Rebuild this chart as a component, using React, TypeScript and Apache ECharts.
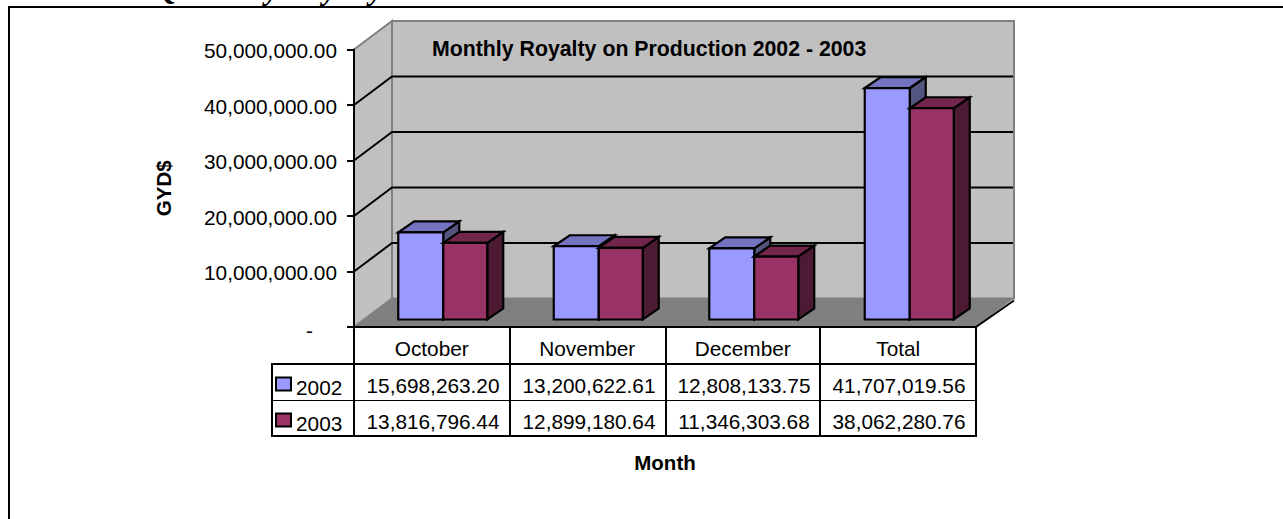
import React, { useEffect, useRef } from "react";
import * as echarts from "echarts";

const categories = ["October", "November", "December", "Total"];
const seriesNames = ["2002", "2003"];
const values2002 = [15698263.2, 13200622.61, 12808133.75, 41707019.56];
const values2003 = [13816796.44, 12899180.64, 11346303.68, 38062280.76];
const axisTicks = [0, 10000000, 20000000, 30000000, 40000000, 50000000];

const FONT = "Liberation Sans, Arial, sans-serif";
const GRID = { left: 354, top: 49.5, width: 622, height: 277.5 };
const WALL_DX = 38;
const WALL_DY = -28.5;
const BAR_DX = 16;
const BAR_DY = -11;
const BAR_W = 45;
const BAR_SHIFT_X = 11.5;
const BAR_SHIFT_Y = -7.5;
const COLORS = [
  { front: "#9999FF", top: "#7373BF", side: "#545480" },
  { front: "#993366", top: "#73264C", side: "#4D1A33" },
];
const money = (v: number) =>
  v.toLocaleString("en-US", { minimumFractionDigits: 2, maximumFractionDigits: 2 });

const wallItem = (params: any, api: any) => {
  const v = api.value(0);
  const p = api.coord([0, v]);
  const y = p[1];
  const x0 = GRID.left;
  const x1 = GRID.left + GRID.width;
  const children: any[] = [];
  const grey = "#808080";
  if (v === 0) {
    const yTop = api.coord([0, axisTicks[axisTicks.length - 1]])[1];
    const bx0 = x0 + WALL_DX;
    const bx1 = x1 + WALL_DX;
    children.push({
      type: "polygon",
      shape: { points: [[bx0, yTop + WALL_DY], [bx1, yTop + WALL_DY], [bx1, y + WALL_DY], [bx0, y + WALL_DY]] },
      style: { fill: "#C0C0C0", stroke: grey, lineWidth: 2 },
    });
    children.push({
      type: "polygon",
      shape: { points: [[x0, yTop], [bx0, yTop + WALL_DY], [bx0, y + WALL_DY], [x0, y]] },
      style: { fill: "#C0C0C0", stroke: grey, lineWidth: 2 },
    });
    children.push({
      type: "polygon",
      shape: { points: [[x0, y], [bx0, y + WALL_DY], [bx1, y + WALL_DY], [x1, y]] },
      style: { fill: "#808080", stroke: "none" },
    });
    children.push({
      type: "line",
      shape: { x1: x1, y1: y, x2: bx1, y2: y + WALL_DY + 2 },
      style: { stroke: "#000", lineWidth: 2 },
    });
  } else if (v < axisTicks[axisTicks.length - 1]) {
    children.push({
      type: "polyline",
      shape: { points: [[x0, y], [x0 + WALL_DX, y + WALL_DY], [x1 + WALL_DX - 1, y + WALL_DY]] },
      style: { stroke: "#000", lineWidth: 2, fill: "none" },
    });
  }
  return { type: "group", children };
};

const barItem = (seriesIdx: number) => (params: any, api: any) => {
  const idx = api.value(0);
  const top = api.coord([idx, api.value(1)]);
  const base = api.coord([idx, 0]);
  const mid = top[0] + BAR_SHIFT_X;
  const x = seriesIdx === 0 ? mid - BAR_W : mid;
  const w = seriesIdx === 0 ? BAR_W : BAR_W - 1;
  const yT = top[1] + BAR_SHIFT_Y;
  const yB = base[1] + BAR_SHIFT_Y;
  const c = COLORS[seriesIdx];
  const stroke = { stroke: "#000", lineWidth: 2.2, lineJoin: "miter" };
  return {
    type: "group",
    children: [
      {
        type: "polygon",
        shape: { points: [[x + w, yT], [x + w + BAR_DX, yT + BAR_DY], [x + w + BAR_DX, yB + BAR_DY], [x + w, yB]] },
        style: { fill: c.side, ...stroke },
      },
      {
        type: "polygon",
        shape: { points: [[x, yT], [x + BAR_DX, yT + BAR_DY], [x + w + BAR_DX, yT + BAR_DY], [x + w, yT]] },
        style: { fill: c.top, ...stroke },
      },
      {
        type: "rect",
        shape: { x, y: yT, width: w, height: yB - yT },
        style: { fill: c.front, ...stroke },
      },
    ],
  };
};

const tableLine = (x1: number, y1: number, x2: number, y2: number, w = 2) => ({
  type: "line",
  shape: { x1, y1, x2, y2 },
  style: { stroke: "#000", lineWidth: w },
});

const tableText = (text: string, x: number, y: number) => ({
  type: "text",
  x,
  y,
  style: { text, fill: "#000", font: `20.8px ${FONT}`, align: "center", verticalAlign: "middle" },
});

const COL_X = [354, 510, 666, 820, 976];
const ROW_Y = [327, 364, 400.5, 436];
const TABLE_LEFT = 272;

const buildGraphic = () => {
  const els: any[] = [
    {
      type: "polyline",
      shape: { points: [[9, 519], [9, 7], [1283, 7]] },
      style: { stroke: "#000", lineWidth: 2, fill: "none" },
    },
    {
      type: "text",
      x: 155,
      y: 4,
      style: { text: "Quarterly Royalty", fill: "#000", font: `italic bold 31px "Liberation Serif", serif`, align: "left", verticalAlign: "bottom" },
    },
  ];
  COL_X.forEach((x) => els.push(tableLine(x, ROW_Y[0], x, ROW_Y[3])));
  els.push(tableLine(TABLE_LEFT, ROW_Y[1], TABLE_LEFT, ROW_Y[3]));
  els.push(tableLine(TABLE_LEFT - 1, ROW_Y[1], COL_X[4] + 1, ROW_Y[1]));
  els.push(tableLine(TABLE_LEFT, ROW_Y[2], COL_X[4], ROW_Y[2], 1));
  els.push(tableLine(TABLE_LEFT - 1, ROW_Y[3], COL_X[4] + 1, ROW_Y[3]));
  [values2002, values2003].forEach((vals, r) => {
    vals.forEach((v, c) => {
      els.push(tableText(money(v), (COL_X[c] + COL_X[c + 1]) / 2 + 1, r === 0 ? 385 : 421.5));
    });
  });
  return els;
};

export default function App() {
  const ref = useRef<HTMLDivElement>(null);
  useEffect(() => {
    const chart = echarts.init(ref.current!, undefined, { renderer: "svg", width: 1283, height: 519 });
    chart.setOption({
      animation: false,
      backgroundColor: "#fff",
      title: {
        text: "Monthly Royalty on Production 2002 - 2003",
        left: 427,
        top: 33,
        textStyle: { fontFamily: FONT, fontSize: 21.3, fontWeight: "bold", color: "#000" },
      },
      legend: {
        left: 270,
        top: 371.5,
        orient: "vertical",
        data: seriesNames.map((name) => ({ name, icon: "rect" })),
        itemWidth: 15,
        itemHeight: 13,
        itemGap: 15,
        itemStyle: { borderColor: "#000", borderWidth: 2 },
        formatter: "{a|{name}}",
        textStyle: {
          fontFamily: FONT,
          fontSize: 20.8,
          color: "#000",
          rich: { a: { fontFamily: FONT, fontSize: 20.8, color: "#000", padding: [6, 0, 0, 0] } },
        },
      },
      grid: { ...GRID },
      xAxis: {
        type: "category",
        data: categories,
        z: 5,
        name: "Month",
        nameLocation: "middle",
        nameGap: 125,
        nameTextStyle: { fontFamily: FONT, fontSize: 20.5, fontWeight: "bold", color: "#000" },
        axisLine: { show: true, lineStyle: { color: "#000", width: 2 } },
        axisTick: { show: false },
        axisLabel: { margin: 11, fontFamily: FONT, fontSize: 20.8, color: "#000" },
      },
      yAxis: {
        type: "value",
        min: 0,
        max: 50000000,
        interval: 10000000,
        z: 5,
        name: "GYD$",
        nameLocation: "middle",
        nameGap: 180,
        nameTextStyle: { fontFamily: FONT, fontSize: 20.5, fontWeight: "bold", color: "#000" },
        splitLine: { show: false },
        axisLine: { show: true, lineStyle: { color: "#000", width: 2 } },
        axisTick: { show: true, length: 7, lineStyle: { color: "#000", width: 2 } },
        axisLabel: {
          margin: 17,
          fontFamily: FONT,
          fontSize: 20.8,
          color: "#000",
          padding: [2, 0, 0, 0],
          formatter: (v: number) => (v === 0 ? "{d|-}" : money(v)),
          rich: { d: { fontFamily: FONT, fontSize: 20.8, color: "#000", padding: [4, 24, 0, 0] } },
        },
      },
      graphic: buildGraphic(),
      series: [
        {
          name: "walls",
          type: "custom",
          z: 1,
          silent: true,
          renderItem: wallItem,
          data: axisTicks.map((t) => [t]),
          encode: { y: 0 },
          clip: false,
        },
        ...[values2002, values2003].map((vals, i) => ({
          name: seriesNames[i],
          type: "custom",
          z: 2,
          itemStyle: { color: COLORS[i].front },
          renderItem: barItem(i),
          data: vals.map((v, c) => [c, v]),
          encode: { x: 0, y: 1 },
          clip: false,
        })),
      ],
    });
    return () => chart.dispose();
  }, []);
  return <div ref={ref} style={{ position: "fixed", left: 0, top: 0, width: 1283, height: 519 }} />;
}
